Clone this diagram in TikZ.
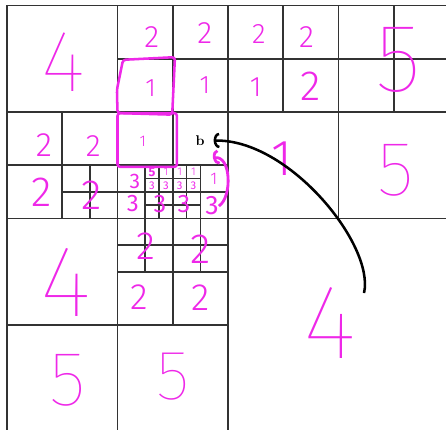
\documentclass[tikz,border=0pt]{standalone}
\usepackage{fontspec}
\usetikzlibrary{arrows.meta}
\IfFontExistsTF{Fira Sans Thin}{\newfontfamily\thinhand{Fira Sans Thin}}{\newfontfamily\thinhand{Fira Sans}}
\IfFontExistsTF{Fira Sans Light}{\newfontfamily\lighthand{Fira Sans Light}}{\newfontfamily\lighthand{Fira Sans}}
\newfontfamily\penhand{Fira Sans}
\definecolor{pen}{RGB}{238,40,232}

\begin{document}
\begin{tikzpicture}[x=2.7625cm, y=-2.6625cm,
  cell/.style={draw=black!80, line width=1.1pt},
  digit/.style={text=pen, inner sep=0pt},
  bigdigit/.style={digit, font=\thinhand\fontsize{#1}{#1}\selectfont},
  middigit/.style={digit, font=\lighthand\fontsize{#1}{#1}\selectfont},
  smalldigit/.style={digit, font=\penhand\fontsize{#1}{#1}\selectfont},
  frame/.style={draw=pen, line width=1.8pt, rounded corners=2pt},
  back/.style={draw=black, line width=1.8pt, -{Arc Barb[length=4pt, width=11pt]}},
  hop/.style={draw=pen, line width=2pt, -{Arc Barb[length=4pt, width=11pt]}}
]
\useasboundingbox (-0.0633,-0.0516) rectangle (3.973,3.977);
\clip (-0.0633,-0.0516) rectangle (3.973,3.977);

\draw[cell] (0,0) rectangle (4,4);
\draw[cell] (1,0) -- (1,4) (2,0) -- (2,4) (3,0) -- (3,2)
            (0,1) -- (4,1) (0,2) -- (4,2) (0,3) -- (2,3);
\draw[cell] (1.5,0) -- (1.5,3) (2.5,0) -- (2.5,1) (3.5,0) -- (3.5,1) (0.5,1) -- (0.5,2)
            (1,0.5) -- (4,0.5) (0,1.5) -- (2,1.5) (1,2.5) -- (2,2.5);
\draw[cell] (0.75,1.5) -- (0.75,2) (1.25,1.5) -- (1.25,2.5) (1.75,1.5) -- (1.75,2.5)
            (0.5,1.75) -- (2,1.75) (1,2.25) -- (2,2.25);
\draw[cell] (1.375,1.5) -- (1.375,2) (1.625,1.5) -- (1.625,2)
            (1.25,1.625) -- (1.75,1.625) (1.25,1.875) -- (1.75,1.875);

\draw[frame] (1.05,0.51) -- (1.52,0.485) -- (1.495,1.025) -- (1.0,1.01) -- (0.995,0.79) -- cycle;
\draw[frame] (1.0,1.01) rectangle (1.538,1.516);

\node[bigdigit=62] (four1) at (0.51,0.53) {4};
\node[middigit=22] (two1) at (1.31,0.30) {2};
\node[middigit=22] (two2) at (1.79,0.26) {2};
\node[middigit=20] (two3) at (2.28,0.27) {2};
\node[middigit=22] (two4) at (2.71,0.30) {2};
\node[middigit=18] (one1) at (1.30,0.775) {1};
\node[middigit=18] (one2) at (1.79,0.75) {1};
\node[middigit=20] (one3) at (2.25,0.765) {1};
\node[middigit=30] (two5) at (2.75,0.756) {2};
\node[bigdigit=69] (five1) at (3.54,0.51) {5};

\node[middigit=24] (two6) at (0.335,1.31) {2};
\node[middigit=22] (two7) at (0.78,1.32) {2};
\node[middigit=11] (one5) at (1.23,1.272) {1};
\node[font=\bfseries\fontsize{10}{10}\selectfont, inner sep=0pt] (b) at (1.747,1.272) {b};
\node[middigit=36] (one4) at (2.49,1.44) {1};
\node[bigdigit=55] (five2) at (3.52,1.545) {5};
\node[middigit=30] (two8) at (0.317,1.751) {2};
\node[middigit=30] (two9) at (0.769,1.779) {2};

\node[smalldigit=15] (three1) at (1.158,1.655) {3};
\node[smalldigit=17] (three2) at (1.14,1.862) {3};
\node[smalldigit=18] (three3) at (1.385,1.864) {3};
\node[smalldigit=18] (three4) at (1.602,1.864) {3};
\node[smalldigit=19] (three5) at (1.855,1.883) {3};
\node[middigit=12] (one6) at (1.873,1.629) {1};
\node[smalldigit=9, font=\penhand\bfseries\fontsize{9}{9}\selectfont] (five3) at (1.3125,1.562) {5};
\node[middigit=8] (one7) at (1.4375,1.562) {1};
\node[middigit=8] (one8) at (1.5625,1.562) {1};
\node[middigit=8] (one9) at (1.6875,1.562) {1};
\node[smalldigit=8] (three6) at (1.3125,1.69) {3};
\node[smalldigit=8] (three7) at (1.4375,1.69) {3};
\node[smalldigit=8] (three8) at (1.5625,1.69) {3};
\node[smalldigit=8] (three9) at (1.6875,1.69) {3};

\node[middigit=28] (two10) at (1.258,2.258) {2};
\node[middigit=30] (two11) at (1.756,2.286) {2};
\node[middigit=26] (two12) at (1.195,2.737) {2};
\node[middigit=27] (two13) at (1.756,2.746) {2};
\node[bigdigit=72] (four2) at (0.534,2.596) {4};
\node[bigdigit=55] (five4) at (0.552,3.516) {5};
\node[bigdigit=50] (five5) at (1.502,3.488) {5};
\node[bigdigit=75] (four3) at (2.923,2.981) {4};

\coordinate (tail) at (3.231,2.70);
\draw[back, shorten >=2.2mm] (tail) .. controls (3.33,2.25) and (2.55,1.25) .. (b);
\coordinate (hook) at (1.864,1.432);
\draw[hop] (three5.east) .. controls (2.04,1.80) and (2.03,1.40) .. (hook);
\end{tikzpicture}
\end{document}
